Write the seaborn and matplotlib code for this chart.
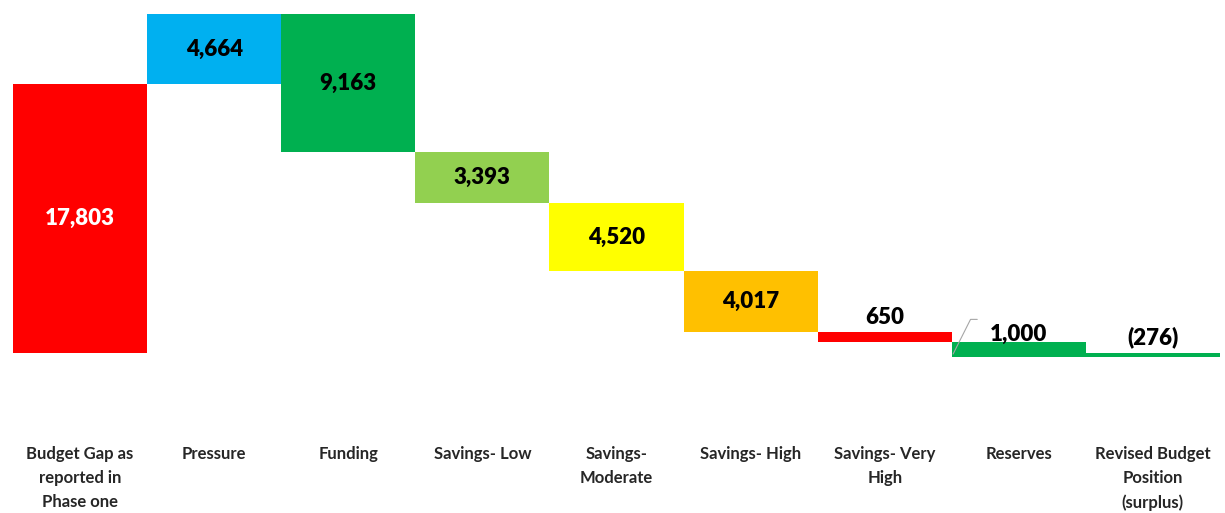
import numpy as np
import pandas as pd
import matplotlib
matplotlib.use("Agg")
import matplotlib.pyplot as plt
import seaborn as sns

# Waterfall data
categories = ["Budget Gap as\nreported in\nPhase one", "Pressure", "Funding", "Savings- Low",
              "Savings-\nModerate", "Savings- High", "Savings- Very\nHigh", "Reserves",
              "Revised Budget\nPosition\n(surplus)"]
changes = [17803, 4664, -9163, -3393, -4520, -4017, -650, -1000]
value_labels = ["17,803", "4,664", "9,163", "3,393", "4,520", "4,017", "650", "1,000", "(276)"]
bar_colors = ["#FF0000", "#00B0F0", "#00B050", "#92D050", "#FFFF00", "#FFC000",
              "#FF0000", "#00B050", "#00B050"]
label_colors = ["white"] + ["black"] * 8

# build base / height for each bar
cum = np.cumsum(changes)
start = np.concatenate([[0], cum[:-1]])
total = cum[-1]
bottoms = list(start) + [0]
heights = list(changes) + [total]
df = pd.DataFrame({"cat": categories, "height": heights})

sns.set_style("white")
plt.rcParams["font.family"] = ["Lato", "DejaVu Sans"]

fig = plt.figure(figsize=(12.25, 5.13), dpi=100)
ax = fig.add_axes([0.0106, 0.3047, 0.9853, 0.668])

sns.barplot(data=df, x="cat", y="height", bottom=bottoms, width=1.0,
            color="#cccccc", errorbar=None, ax=ax, linewidth=0)
for patch, c in zip(ax.patches, bar_colors):
    patch.set_facecolor(c)

ax.set_xlim(-0.5, len(categories) - 0.5)
ax.set_ylim(total, cum.max())

# value labels (small bars get their label above the bar)
small_offsets = {6: 10, 7: 5, 8: 11}
for i, (b, h) in enumerate(zip(bottoms, heights)):
    top = max(b, b + h)
    if abs(h) > 2500:
        ax.text(i, b + h / 2, value_labels[i], ha="center", va="center",
                fontsize=16, fontweight="heavy", color=label_colors[i])
    else:
        ax.annotate(value_labels[i], (i, top), xytext=(0, small_offsets.get(i, 10)),
                    textcoords="offset points", ha="center", va="center",
                    fontsize=16, fontweight="heavy", color=label_colors[i])

# leader line next to reserves label
ax.plot([6.51, 6.64, 6.69], [-100, 2200, 2200], color="#a6a6a6", lw=0.8)

ax.set_xlabel("")
ax.set_ylabel("")
ax.set_yticks([])
ax.set_xticks(range(len(categories)))
ax.set_xticklabels(categories, fontweight="bold", fontsize=12, linespacing=1.62,
                   va="top", ha="center")
ax.tick_params(axis="x", length=0, pad=64)
sns.despine(ax=ax, left=True, bottom=True)

fig.savefig("out.png", dpi=100)
